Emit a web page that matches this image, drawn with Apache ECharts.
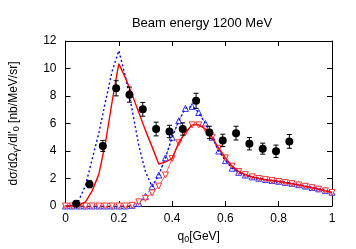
<!DOCTYPE html>
<html>
<head>
<meta charset="utf-8">
<script src="https://cdn.jsdelivr.net/npm/echarts@6/dist/echarts.min.js"></script>
<style>html,body{margin:0;padding:0;background:#fff}#c{width:356px;height:249px}</style>
</head>
<body>
<div id="c"></div>
<script>
// ---- data ----
var titleText = 'Beam energy 1200 MeV';
var xTicks = [0, 0.2, 0.4, 0.6, 0.8, 1];
var yTicks = [0, 2, 4, 6, 8, 10, 12];

var dataX   = [0.04, 0.09, 0.14, 0.19, 0.24, 0.29, 0.34, 0.39, 0.44, 0.49, 0.54, 0.59, 0.64, 0.69, 0.74, 0.79, 0.84];
var dataY   = [0.17, 1.58, 4.37, 8.56, 8.1, 7.03, 5.6, 5.42, 5.6, 7.65, 5.35, 4.77, 5.3, 4.53, 4.17, 3.98, 4.7];
var dataErr = [0.1, 0.25, 0.4, 0.55, 0.55, 0.5, 0.5, 0.45, 0.45, 0.55, 0.45, 0.45, 0.5, 0.45, 0.4, 0.45, 0.5];

var curveX = [0, 0.025, 0.05, 0.075, 0.1, 0.125, 0.15, 0.175, 0.2, 0.225, 0.25, 0.275, 0.3, 0.325, 0.35, 0.375, 0.4,
              0.425, 0.45, 0.475, 0.5, 0.525, 0.55, 0.575, 0.6, 0.625, 0.65, 0.675, 0.7, 0.725, 0.75, 0.775, 0.8,
              0.825, 0.85, 0.875, 0.9, 0.925, 0.95, 0.975, 1.0];

var blueTri = [0, 0, 0, 0, 0, 0, 0, 0, 0, 0, 0.05, 0.2, 0.7, 1.4, 2.25, 3.5, 5.0,
               6.2, 7.1, 7.25, 6.8, 6.0, 5.0, 4.0, 3.3, 2.75, 2.45, 2.25, 2.12, 2.02, 1.93, 1.86, 1.8,
               1.72, 1.65, 1.55, 1.45, 1.35, 1.25, 1.12, 1.0];
var redTri  = [0, 0, 0, 0, 0, 0, 0, 0, 0, 0, 0.05, 0.3, 0.55, 0.95, 1.45, 2.25, 3.45,
               4.6, 5.35, 5.9, 5.9, 5.6, 5.0, 4.2, 3.5, 2.9, 2.5, 2.28, 2.12, 2.0, 1.92, 1.85, 1.78,
               1.7, 1.62, 1.53, 1.43, 1.33, 1.22, 1.1, 0.98];
var blueTotal = [0, 0.05, 0.4, 1.5, 3.4, 5.3, 7.6, 9.8, 11.3, 9.4, 7.0, 4.4, 2.5, 1.4, 2.25, 3.5, 5.0,
                 6.2, 7.1, 7.25, 6.8, 6.0, 5.0, 4.0, 3.3, 2.75, 2.45, 2.25, 2.12, 2.02, 1.93, 1.86, 1.8,
                 1.72, 1.65, 1.55, 1.45, 1.35, 1.25, 1.12, 1.0];
var redTotal  = [0, 0, 0.05, 0.3, 1.1, 2.3, 4.6, 7.6, 10.35, 9.3, 8.1, 6.8, 5.5, 4.3, 3.05, 3.2, 3.45,
                 4.6, 5.35, 5.9, 5.9, 5.6, 5.0, 4.2, 3.5, 2.9, 2.5, 2.28, 2.12, 2.0, 1.92, 1.85, 1.78,
                 1.7, 1.62, 1.53, 1.43, 1.33, 1.22, 1.1, 0.98];

function zip(xs, ys) { return xs.map(function (x, i) { return [x, ys[i]]; }); }

var FONT = 'Liberation Sans';
var chart = echarts.init(document.getElementById('c'), null, {renderer: 'canvas'});

var tickCommon = {show: true, inside: true, length: 5, lineStyle: {color: '#000', width: 1}};

var option = {
  animation: false,
  backgroundColor: '#fff',
  textStyle: {fontFamily: FONT},
  title: {
    text: titleText, left: 197, top: 12, textAlign: 'center',
    textStyle: {fontFamily: FONT, fontSize: 13, fontWeight: 'normal', color: '#000'}
  },
  grid: {left: 62, right: 24, top: 41, bottom: 41, containLabel: false},
  xAxis: [{
    type: 'value', min: 0, max: 1, interval: 0.2, position: 'bottom',
    axisLine: {show: true, onZero: false, lineStyle: {color: '#000', width: 1}},
    axisTick: tickCommon,
    splitLine: {show: false},
    axisLabel: {fontFamily: FONT, fontSize: 12, color: '#000', margin: 7,
      formatter: function (v) { return String(Math.round(v * 10) / 10); }},
    name: 'q{s|0}[GeV]', nameLocation: 'middle', nameGap: 23,
    nameTextStyle: {fontFamily: FONT, fontSize: 12, color: '#000',
      rich: {s: {fontSize: 9, verticalAlign: 'bottom', padding: [6, 0, 0, 0], fontFamily: FONT, color: '#000'}}}
  }, {
    type: 'value', min: 0, max: 1, interval: 0.2, position: 'top',
    axisLine: {show: true, onZero: false, lineStyle: {color: '#000', width: 1}},
    axisTick: tickCommon, axisLabel: {show: false}, splitLine: {show: false}
  }],
  yAxis: [{
    type: 'value', min: 0, max: 12, interval: 2, position: 'left',
    axisLine: {show: true, onZero: false, lineStyle: {color: '#000', width: 1}},
    axisTick: tickCommon,
    splitLine: {show: false},
    axisLabel: {fontFamily: FONT, fontSize: 12, color: '#000', margin: 9},
    name: 'dσ/dΩ{s|γ\'}/dl\'{s|0} [nb/MeV/sr]', nameLocation: 'middle', nameGap: 44, nameRotate: 90,
    nameTextStyle: {fontFamily: FONT, fontSize: 12, color: '#000',
      rich: {s: {fontSize: 9, padding: [6, 0, 0, 0], fontFamily: FONT, color: '#000'}}}
  }, {
    type: 'value', min: 0, max: 12, interval: 2, position: 'right',
    axisLine: {show: true, onZero: false, lineStyle: {color: '#000', width: 1}},
    axisTick: tickCommon, axisLabel: {show: false}, splitLine: {show: false}
  }],
  series: [
    {
      type: 'line', data: zip(curveX, blueTri), symbol: 'triangle', symbolSize: 6,
      showSymbol: true, clip: false,
      itemStyle: {color: '#fff', borderColor: '#3333ff', borderWidth: 1},
      lineStyle: {color: '#3333ff', width: 0.8, type: [2, 2]}, z: 3
    },
    {
      type: 'line', data: zip(curveX, redTri), symbol: 'triangle', symbolRotate: 180, symbolSize: 6,
      showSymbol: true, clip: false,
      itemStyle: {color: '#fff', borderColor: '#ff3333', borderWidth: 1},
      lineStyle: {color: '#ff3333', width: 0.8}, z: 3
    },
    {
      type: 'line', data: zip(curveX, blueTotal), symbol: 'none',
      lineStyle: {color: '#0000ff', width: 1.4, type: [2, 2.5]}, z: 4
    },
    {
      type: 'line', data: zip(curveX, redTotal), symbol: 'none',
      lineStyle: {color: '#ff0000', width: 1.4}, z: 4
    },
    {
      type: 'custom', z: 5,
      data: dataX.map(function (x, i) { return [x, dataY[i], dataErr[i]]; }),
      renderItem: function (params, api) {
        var x = api.value(0), y = api.value(1), e = api.value(2);
        var p1 = api.coord([x, y + e]), p2 = api.coord([x, y - e]);
        var c = 2.5;
        var st = {stroke: '#000', lineWidth: 1};
        return {type: 'group', children: [
          {type: 'line', shape: {x1: p1[0], y1: p1[1], x2: p2[0], y2: p2[1]}, style: st},
          {type: 'line', shape: {x1: p1[0] - c, y1: p1[1], x2: p1[0] + c, y2: p1[1]}, style: st},
          {type: 'line', shape: {x1: p2[0] - c, y1: p2[1], x2: p2[0] + c, y2: p2[1]}, style: st}
        ]};
      }
    },
    {
      type: 'scatter', z: 6, data: zip(dataX, dataY), symbol: 'circle', symbolSize: 8,
      itemStyle: {color: '#000', opacity: 1}
    }
  ]
};
chart.setOption(option);
</script>
</body>
</html>
